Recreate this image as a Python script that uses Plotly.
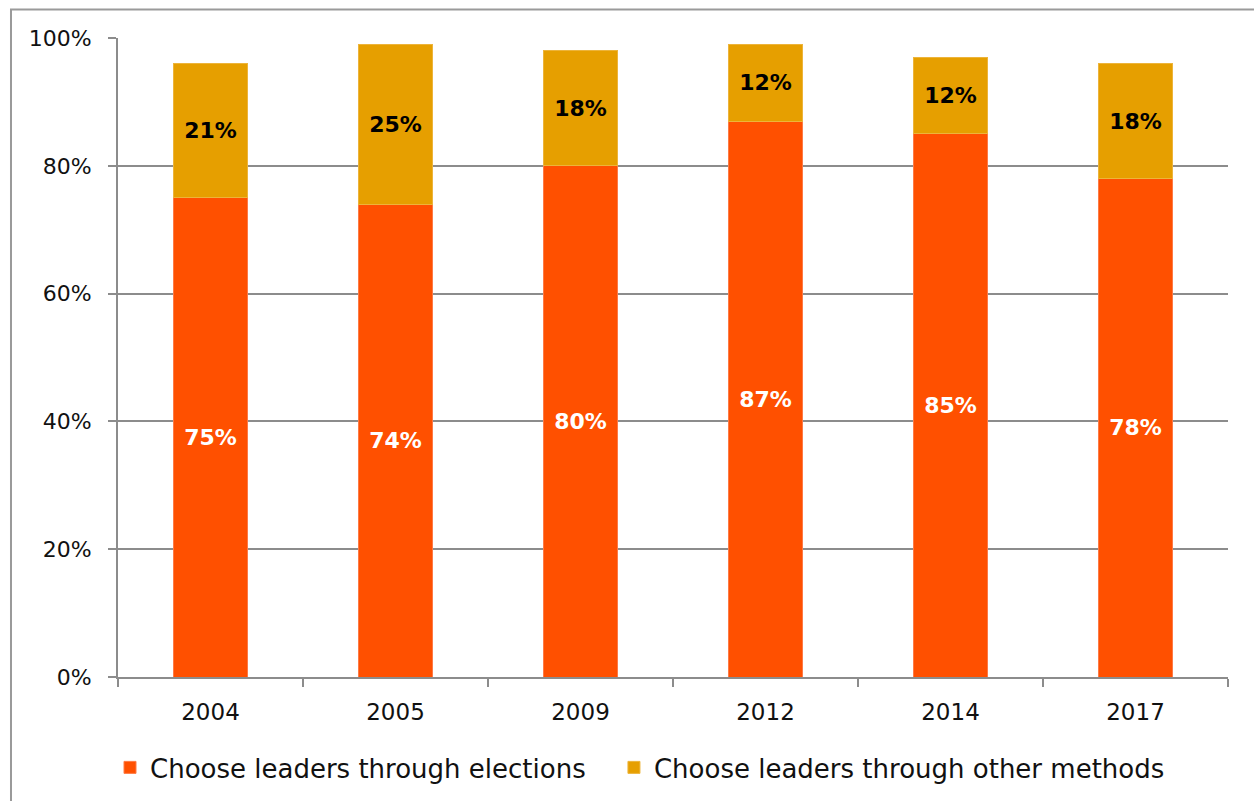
import plotly.graph_objects as go

years = ["2004", "2005", "2009", "2012", "2014", "2017"]
elections = [75, 74, 80, 87, 85, 78]
other_methods = [21, 25, 18, 12, 12, 18]
series_names = ["Choose leaders through elections", "Choose leaders through other methods"]
y_ticks = [0, 20, 40, 60, 80, 100]

FONT = "DejaVu Sans"
GRID = "#8c8c8c"


def pct(values):
    return [f"{v}%" for v in values]


fig = go.Figure()
fig.add_trace(go.Bar(
    x=years, y=elections, name=series_names[0], legend="legend",
    marker=dict(color="#FF5000", line=dict(color="#FF7a45", width=1)),
    text=pct(elections), texttemplate="%{text}",
    textposition="inside", insidetextanchor="middle", textangle=0,
    textfont=dict(family=FONT, size=22, color="white", weight="bold"),
))
fig.add_trace(go.Bar(
    x=years, y=other_methods, name=series_names[1], legend="legend2",
    marker=dict(color="#E69F00", line=dict(color="#EDB43a", width=1)),
    text=pct(other_methods), texttemplate="%{text}",
    textposition="inside", insidetextanchor="middle", textangle=0,
    textfont=dict(family=FONT, size=22, color="black", weight="bold"),
))

legend_style = dict(
    orientation="h", xanchor="left", y=-0.1416, yanchor="middle",
    font=dict(family=FONT, size=26, color="#111111"),
    itemclick=False, bgcolor="rgba(0,0,0,0)",
)

fig.update_layout(
    width=1254, height=801,
    barmode="stack", bargap=0.6,
    paper_bgcolor="white", plot_bgcolor="white",
    margin=dict(l=118, r=26, t=38, b=124, autoexpand=False),
    font=dict(family=FONT, color="#111111"),
    showlegend=True,
    legend=dict(x=-0.0072, **legend_style),
    legend2=dict(x=0.4468, **legend_style),
    shapes=[dict(
        type="rect", xref="paper", yref="paper",
        x0=-0.0964, x1=1.3, y0=-0.5, y1=1.0446,
        line=dict(color="#9a9a9a", width=2), fillcolor="rgba(0,0,0,0)", layer="below",
    )],
)

fig.update_xaxes(
    type="category", showgrid=False,
    showline=True, linecolor=GRID, linewidth=2,
    ticks="outside", tickson="boundaries", ticklen=8, tickwidth=2, tickcolor=GRID,
    tickfont=dict(family=FONT, size=23, color="#111111"),
    ticklabelstandoff=13,
)
fig.update_yaxes(
    range=[0, 100], tickmode="array", tickvals=y_ticks, ticktext=pct(y_ticks),
    showgrid=True, gridcolor=GRID, gridwidth=2, zeroline=False,
    showline=True, linecolor=GRID, linewidth=2,
    ticks="outside", ticklen=8, tickwidth=2, tickcolor=GRID,
    tickfont=dict(family=FONT, size=22, color="#111111"),
    ticklabelstandoff=12,
)

fig.write_html("out.html")
